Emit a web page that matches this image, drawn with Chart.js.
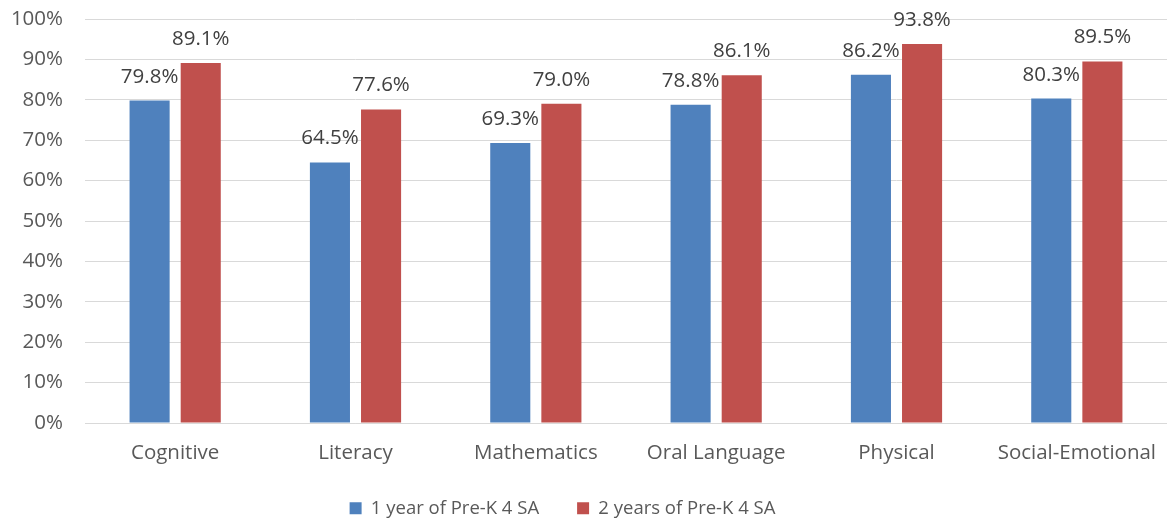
<!DOCTYPE html>
<html>
<head>
<meta charset="utf-8">
<script src="https://cdn.jsdelivr.net/npm/chart.js@4"></script>
<style>
  html, body { margin: 0; padding: 0; background: #fff; }
  #wrap { width: 1167px; height: 525px; }
</style>
</head>
<body>
<div id="wrap"><canvas id="chart"></canvas></div>
<script>
const categories = ["Cognitive", "Literacy", "Mathematics", "Oral Language", "Physical", "Social-Emotional"];
const oneYear = [79.8, 64.5, 69.3, 78.8, 86.2, 80.3];
const twoYears = [89.1, 77.6, 79.0, 86.1, 93.8, 89.5];
const seriesNames = ["1 year of Pre-K 4 SA", "2 years of Pre-K 4 SA"];

const FONT = "'Open Sans', Lato, sans-serif";
const TEXT_SIZE = 20.5;

// writes the value above each bar
const valueLabels = {
  id: "valueLabels",
  afterDatasetsDraw(chart) {
    const ctx = chart.ctx;
    ctx.save();
    ctx.font = `${TEXT_SIZE}px ${FONT}`;
    ctx.fillStyle = "#404040";
    ctx.textAlign = "center";
    ctx.textBaseline = "alphabetic";
    chart.data.datasets.forEach((ds, i) => {
      chart.getDatasetMeta(i).data.forEach((bar, j) => {
        ctx.fillText(ds.data[j].toFixed(1) + "%", bar.x, bar.y - 18);
      });
    });
    ctx.restore();
  },
};

// nudge the legend a little up and to the left of where the layout puts it
const legendNudge = {
  id: "legendNudge",
  afterLayout(chart) {
    const lg = chart.legend;
    lg.top = 461;
    lg.left -= 21;
    lg.right -= 21;
  },
};

new Chart(document.getElementById("chart"), {
  type: "bar",
  data: {
    labels: categories,
    datasets: [
      {
        label: seriesNames[0],
        data: oneYear,
        backgroundColor: "#4F81BD",
      },
      {
        label: seriesNames[1],
        data: twoYears,
        backgroundColor: "#C0504D",
      },
    ],
  },
  options: {
    responsive: true,
    maintainAspectRatio: false,
    animation: false,
    categoryPercentage: 0.567,
    barPercentage: 0.784,
    layout: { padding: { top: 19, right: 0, left: 0, bottom: 0 } },
    plugins: {
      legend: {
        position: "bottom",
        maxHeight: 54,
        labels: {
          boxWidth: 12,
          boxHeight: 12,
          padding: 38,
          color: "#595959",
          font: { family: FONT, size: 18.5 },
        },
      },
      tooltip: { enabled: false },
    },
    scales: {
      x: {
        grid: { display: false, drawTicks: false },
        border: { display: true, color: "#d9d9d9" },
        ticks: { color: "#595959", font: { family: FONT, size: TEXT_SIZE }, padding: 18 },
        afterFit(scale) {
          scale.height = 48;
          scale.paddingLeft = 0;
          scale.paddingRight = 0;
        },
      },
      y: {
        min: 0,
        max: 100,
        grid: { color: "#d9d9d9", drawTicks: false },
        border: { display: false },
        ticks: {
          stepSize: 10,
          color: "#595959",
          font: { family: FONT, size: TEXT_SIZE },
          padding: 22,
          callback: (v) => v + "%",
        },
        afterFit(scale) {
          scale.width = 85;
          scale.paddingTop = 0;
          scale.paddingBottom = 0;
        },
      },
    },
  },
  plugins: [valueLabels, legendNudge],
});
</script>
</body>
</html>
